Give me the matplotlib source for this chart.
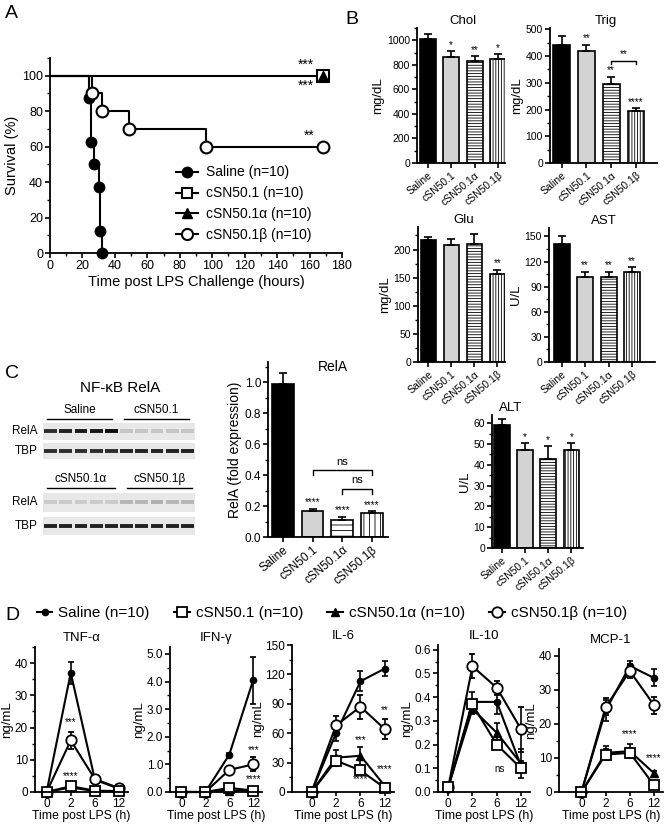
import numpy as np
import matplotlib
matplotlib.use('Agg')
import matplotlib.pyplot as plt
from matplotlib.ticker import MultipleLocator, FormatStrFormatter
from matplotlib.lines import Line2D

plt.rcParams['font.family'] = ['Liberation Sans', 'DejaVu Sans']
plt.rcParams['hatch.linewidth'] = 0.6
plt.rcParams['axes.linewidth'] = 1.3

W, H = 668, 824

# ---------- A: survival ----------
saline_t = [0, 24, 25.5, 27, 30, 31, 32]
saline_s = [100, 87.5, 62.5, 50, 37.5, 12.5, 0]
c1_t = [0, 168]
c1_s = [100, 100]
ca_t = [0, 168]
ca_s = [100, 100]
cb_t = [0, 26, 32, 49, 96, 168]
cb_s = [100, 90, 80, 70, 60, 60]

groups = ['Saline', 'cSN50.1', 'cSN50.1α', 'cSN50.1β']
legend_labels = ['Saline (n=10)', 'cSN50.1 (n=10)', 'cSN50.1α (n=10)', 'cSN50.1β (n=10)']

# ---------- B: serum chemistry ----------
chol_mean = [1010, 865, 835, 850]
chol_err = [45, 45, 35, 35]
chol_star = ['', '*', '**', '*']
trig_mean = [440, 420, 295, 193]
trig_err = [35, 22, 28, 12]
trig_star = ['', '**', '**', '****']
glu_mean = [217, 208, 210, 157]
glu_err = [6, 10, 18, 7]
glu_star = ['', '', '', '**']
ast_mean = [141, 102, 102, 108]
ast_err = [9, 6, 6, 5]
ast_star = ['', '**', '**', '**']
alt_mean = [59, 47, 43, 47]
alt_err = [3, 3.5, 6, 3.5]
alt_star = ['', '*', '*', '*']

# ---------- C: RelA ----------
rela_mean = [0.99, 0.17, 0.11, 0.155]
rela_err = [0.07, 0.01, 0.02, 0.01]
rela_star = ['', '****', '****', '****']
blot_rela_top = [0.85, 0.9, 0.95, 0.95, 1.0, 0.15, 0.15, 0.15, 0.15, 0.15]
blot_tbp_top = [0.85, 0.85, 0.85, 0.85, 0.85, 0.9, 0.9, 0.9, 0.9, 0.9]
blot_rela_bot = [0.12, 0.12, 0.12, 0.12, 0.12, 0.22, 0.22, 0.25, 0.22, 0.22]
blot_tbp_bot = [0.9, 0.9, 0.9, 0.9, 0.9, 0.9, 0.9, 0.9, 0.9, 0.9]

# ---------- D: cytokines ----------
time_labels = ['0', '2', '6', '12']
tnf = {'saline': ([0, 37, 3.8, 1.0], [0.3, 3.5, 0.6, 0.3]),
       'c1': ([0, 1.8, 0.4, 0.3], [0.1, 0.8, 0.2, 0.1]),
       'ca': ([0, 1.4, 0.3, 0.2], [0.1, 0.5, 0.1, 0.1]),
       'cb': ([0, 16, 4.0, 1.2], [0.2, 2.5, 1.0, 0.3])}
ifn = {'saline': ([0, 0, 1.35, 4.05], [0, 0, 0.08, 0.85]),
       'c1': ([0, 0, 0.15, 0.05], [0, 0, 0.05, 0.03]),
       'ca': ([0, 0, 0.05, 0.05], [0, 0, 0.03, 0.03]),
       'cb': ([0, 0, 0.8, 1.0], [0, 0, 0.12, 0.25])}
il6 = {'saline': ([0, 60, 113, 126], [1, 8, 10, 8]),
       'c1': ([0, 32, 22, 4], [1, 3, 2, 1]),
       'ca': ([0, 35, 37, 6], [1, 8, 9, 2]),
       'cb': ([0, 68, 87, 64], [1, 10, 12, 10])}
il10 = {'saline': ([0.02, 0.38, 0.38, 0.11], [0.005, 0.04, 0.05, 0.02]),
        'c1': ([0.02, 0.37, 0.20, 0.10], [0.005, 0.02, 0.02, 0.01]),
        'ca': ([0.02, 0.35, 0.25, 0.12], [0.005, 0.02, 0.04, 0.06]),
        'cb': ([0.02, 0.53, 0.44, 0.265], [0.005, 0.05, 0.03, 0.095])}
mcp = {'saline': ([0, 24, 37, 33.5], [0.3, 3, 1.5, 2.5]),
       'c1': ([0, 11, 11.5, 2], [0.3, 1.5, 1.5, 0.5]),
       'ca': ([0, 11.5, 12, 5.5], [0.3, 2, 2, 0.8]),
       'cb': ([0, 25, 35.5, 25.5], [0.3, 2.5, 2, 2.5])}


def add_ax(fig, l, t, r, b):
    return fig.add_axes([l / W, 1 - b / H, (r - l) / W, (b - t) / H])


def style_ax(ax, labelsize=8):
    ax.spines['top'].set_visible(False)
    ax.spines['right'].set_visible(False)
    ax.tick_params(which='major', direction='out', length=3.5, width=1.2, labelsize=labelsize, pad=1.5)
    ax.tick_params(which='minor', direction='out', length=2, width=1.0)


fig = plt.figure(figsize=(W / 100, H / 100), dpi=100)

# ===== Panel A =====
axA = add_ax(fig, 50, 58, 342, 253)
style_ax(axA, 9)
mk = dict(color='k', lw=1.5)
axA.step(saline_t, saline_s, where='post', **mk)
axA.step(c1_t, c1_s, where='post', **mk)
axA.step(cb_t, cb_s, where='post', **mk)
axA.plot(saline_t[1:], saline_s[1:], 'o', ms=7.5, mfc='k', mec='k', clip_on=False)
axA.plot(cb_t[1:], cb_s[1:], 'o', ms=8.5, mfc='white', mec='k', mew=1.5, clip_on=False)
axA.plot(c1_t[1:], c1_s[1:], 's', ms=8, mfc='white', mec='k', mew=1.5, clip_on=False)
axA.plot(ca_t[1:], ca_s[1:], '^', ms=6.5, mfc='k', mec='k', clip_on=False)
axA.text(163, 102, '***', ha='right', va='bottom', fontsize=10)
axA.text(163, 98, '***', ha='right', va='top', fontsize=10)
axA.text(163, 62, '**', ha='right', va='bottom', fontsize=10)
axA.set_xlim(0, 180)
axA.set_ylim(0, 110)
axA.set_xticks(np.arange(0, 181, 20))
axA.set_yticks(np.arange(0, 101, 20))
axA.xaxis.set_minor_locator(MultipleLocator(10))
axA.yaxis.set_minor_locator(MultipleLocator(10))
axA.set_xlabel('Time post LPS Challenge (hours)', fontsize=10.5, labelpad=2)
axA.set_ylabel('Survival (%)', fontsize=10.5, labelpad=2)
hA = [Line2D([], [], color='k', lw=1.5, marker='o', ms=7.5, mfc='k'),
      Line2D([], [], color='k', lw=1.5, marker='s', ms=7.5, mfc='white', mew=1.5),
      Line2D([], [], color='k', lw=1.5, marker='^', ms=7, mfc='k'),
      Line2D([], [], color='k', lw=1.5, marker='o', ms=8, mfc='white', mew=1.5)]
axA.legend(hA, legend_labels, loc='lower left', bbox_to_anchor=(0.43, 0.055), frameon=False,
           borderaxespad=0, borderpad=0, fontsize=10, handlelength=1.6, handletextpad=0.6,
           labelspacing=0.5)
fig.text(5 / W, 1 - 18 / H, 'A', fontsize=14)

# ===== bar helper =====
fills = ['black', '#d3d3d3', 'white', 'white']


def bar_panel(ax, means, errs, stars, title, ylabel, ylim, step, minor, xlim, title_x=0.52,
              hatches=(None, None, '------', '||||||'), width=0.68, starsize=7, ticksize=7.5):
    x = np.arange(4)
    for i in range(4):
        ax.bar(x[i], means[i], width, color=fills[i], edgecolor='k', lw=1.2,
               hatch=hatches[i], zorder=2)
    ax.errorbar(x, means, yerr=[np.zeros(4), errs], fmt='none', ecolor='k',
                elinewidth=1.2, capsize=3, capthick=1.2, zorder=3)
    for i in range(4):
        if stars[i]:
            ax.text(x[i], means[i] + errs[i] + ylim * 0.01, stars[i], ha='center',
                    va='bottom', fontsize=starsize)
    style_ax(ax, ticksize)
    ax.set_xlim(*xlim)
    ax.set_ylim(0, ylim)
    ax.yaxis.set_major_locator(MultipleLocator(step))
    ax.yaxis.set_minor_locator(MultipleLocator(minor))
    ax.set_xticks(x)
    ax.set_xticklabels(groups, rotation=40, ha='right', rotation_mode='anchor', fontsize=ticksize)
    ax.set_title(title, fontsize=9.5, pad=3, x=title_x)
    ax.set_ylabel(ylabel, fontsize=9.5, labelpad=2)


axChol = add_ax(fig, 417, 28, 505, 163)
bar_panel(axChol, chol_mean, chol_err, chol_star, 'Chol', 'mg/dL', 1100, 200, 100, (-0.46, 3.3))
axTrig = add_ax(fig, 550, 28, 657, 163)
bar_panel(axTrig, trig_mean, trig_err, trig_star, 'Trig', 'mg/dL', 505, 100, 50, (-0.47, 3.85))
axTrig.plot([2, 2, 3, 3], [372, 381, 381, 372], color='k', lw=1.0)
axTrig.text(2.5, 388, '**', ha='center', va='bottom', fontsize=7)
axGlu = add_ax(fig, 418, 227, 505, 362)
bar_panel(axGlu, glu_mean, glu_err, glu_star, 'Glu', 'mg/dL', 240, 50, 25, (-0.45, 3.33))
axAST = add_ax(fig, 549, 228, 655, 362)
bar_panel(axAST, ast_mean, ast_err, ast_star, 'AST', 'U/L', 160, 30, 15, (-0.54, 3.97))
axALT = add_ax(fig, 492, 415, 583, 548)
bar_panel(axALT, alt_mean, alt_err, alt_star, 'ALT', 'U/L', 64, 10, 5, (-0.42, 3.5), title_x=0.2)
fig.text(345 / W, 1 - 24 / H, 'B', fontsize=14)

# ===== Panel C: blot =====
fig.text(5 / W, 1 - 378 / H, 'C', fontsize=14)
axBl = add_ax(fig, 0, 375, 200, 545)
axBl.set_xlim(0, 200)
axBl.set_ylim(545, 375)
axBl.axis('off')
x0, x1 = 43, 195
lane_w = (x1 - x0) / 10
rows = [(423, 440, blot_rela_top), (443, 459, blot_tbp_top),
        (493, 512, blot_rela_bot), (517, 535, blot_tbp_bot)]
for top, bot, vals in rows:
    axBl.add_patch(plt.Rectangle((x0, top), x1 - x0, bot - top, color='#e8e8e8', lw=0))
    yc = (top + bot) / 2
    for i, v in enumerate(vals):
        g = 0.9 - 0.85 * v
        axBl.plot([x0 + i * lane_w + 1.2, x0 + (i + 1) * lane_w - 1.2], [yc, yc],
                  color=(g, g, g), lw=2.8, solid_capstyle='butt')
axBl.text(120, 388, 'NF-κB RelA', ha='center', va='center', fontsize=11)
for lab, xa, xb, yl in [('Saline', 47, 112, 419), ('cSN50.1', 124, 189, 419),
                        ('cSN50.1α', 47, 115, 488), ('cSN50.1β', 127, 192, 488)]:
    axBl.plot([xa, xb], [yl, yl], color='k', lw=1.0)
    axBl.text((xa + xb) / 2, yl - 2.5, lab, ha='center', va='bottom', fontsize=8.5)
for lab, yl in [('RelA', 431), ('TBP', 451), ('RelA', 502), ('TBP', 526)]:
    axBl.text(38, yl, lab, ha='right', va='center', fontsize=8.5)

# ===== Panel C: RelA bars =====
axRel = add_ax(fig, 268, 362, 388, 537)
bar_panel(axRel, rela_mean, rela_err, rela_star, '', 'RelA (fold expression)', 1.13,
          0.2, 0.1, (-0.5, 3.54), hatches=(None, None, '---', '|||'), width=0.73,
          starsize=7, ticksize=8.5)
axRel.yaxis.set_major_formatter(FormatStrFormatter('%.1f'))
axRel.yaxis.label.set_size(10)
axRel.text(0.54, 0.97, 'RelA', transform=axRel.transAxes, ha='center', va='center', fontsize=10)
axRel.plot([1, 1, 3, 3], [0.40, 0.43, 0.43, 0.40], color='k', lw=1.0)
axRel.text(2, 0.455, 'ns', ha='center', va='bottom', fontsize=8)
axRel.plot([2, 2, 3, 3], [0.28, 0.31, 0.31, 0.28], color='k', lw=1.0)
axRel.text(2.5, 0.335, 'ns', ha='center', va='bottom', fontsize=8)

# ===== Panel D =====
fig.text(5 / W, 1 - 620 / H, 'D', fontsize=14)
series_style = {
    'saline': dict(marker='o', ms=4.5, mfc='k', mec='k'),
    'c1': dict(marker='s', ms=6.5, mfc='white', mec='k', mew=1.3),
    'ca': dict(marker='^', ms=5.5, mfc='k', mec='k'),
    'cb': dict(marker='o', ms=7.5, mfc='white', mec='k', mew=1.3),
}
order = ['saline', 'cb', 'ca', 'c1']


def cyto_panel(ax, data, title, ylim, step, minor, xleft, fmt=None, stars=()):
    x = np.arange(4)
    for key in order:
        m, e = data[key]
        ax.errorbar(x, m, yerr=e, color='k', lw=1.5, elinewidth=1.2, capsize=2.5,
                    capthick=1.2, clip_on=False, **series_style[key])
    for sx, sy, st in stars:
        ax.text(sx, sy, st, ha='center', va='bottom', fontsize=7)
    style_ax(ax, 8.5)
    ax.tick_params(axis='x', length=3, pad=1)
    ax.set_xlim(xleft, 3.37)
    ax.set_ylim(0, ylim)
    ax.set_xticks(x)
    ax.set_xticklabels(time_labels)
    ax.yaxis.set_major_locator(MultipleLocator(step))
    ax.yaxis.set_minor_locator(MultipleLocator(minor))
    if fmt:
        ax.yaxis.set_major_formatter(FormatStrFormatter(fmt))
    ax.set_title(title, fontsize=9.5, pad=4)
    ax.set_ylabel('ng/mL', fontsize=9.5, labelpad=1)
    ax.set_xlabel('Time post LPS (h)', fontsize=8.8, labelpad=0)


axT = add_ax(fig, 35, 647, 128, 792)
cyto_panel(axT, tnf, 'TNF-α', 45, 10, 5, -0.48, stars=[(1, 20, '***'), (1, 3.5, '****')])
axI = add_ax(fig, 170, 647, 262, 792)
cyto_panel(axI, ifn, 'IFN-γ', 5.25, 1.0, 0.5, -0.48, fmt='%.1f',
           stars=[(3, 1.35, '***'), (3, 0.3, '****')])
axL6 = add_ax(fig, 292, 645, 394, 792)
cyto_panel(axL6, il6, 'IL-6', 150, 30, 15, -0.8,
           stars=[(3, 78, '**'), (2, 48, '***'), (3, 18, '****'), (2, 8, '****')])
axL10 = add_ax(fig, 438, 645, 530, 792)
cyto_panel(axL10, il10, 'IL-10', 0.62, 0.1, 0.05, -0.42, fmt='%.1f',
           stars=[(2.1, 0.075, 'ns')])
axM = add_ax(fig, 559, 649, 663, 792)
cyto_panel(axM, mcp, 'MCP-1', 42, 10, 5, -0.93,
           stars=[(2, 15.5, '****'), (3, 8.5, '****')])

hD = [Line2D([], [], color='k', lw=1.5, **series_style[k]) for k in ['saline', 'c1', 'ca', 'cb']]
fig.legend(hD, legend_labels, loc='center', bbox_to_anchor=(0.497, 1 - 613 / H), ncol=4,
           frameon=False, fontsize=11, handlelength=1.0, handletextpad=0.4, columnspacing=1.6)

fig.savefig('out.png', dpi=100)
